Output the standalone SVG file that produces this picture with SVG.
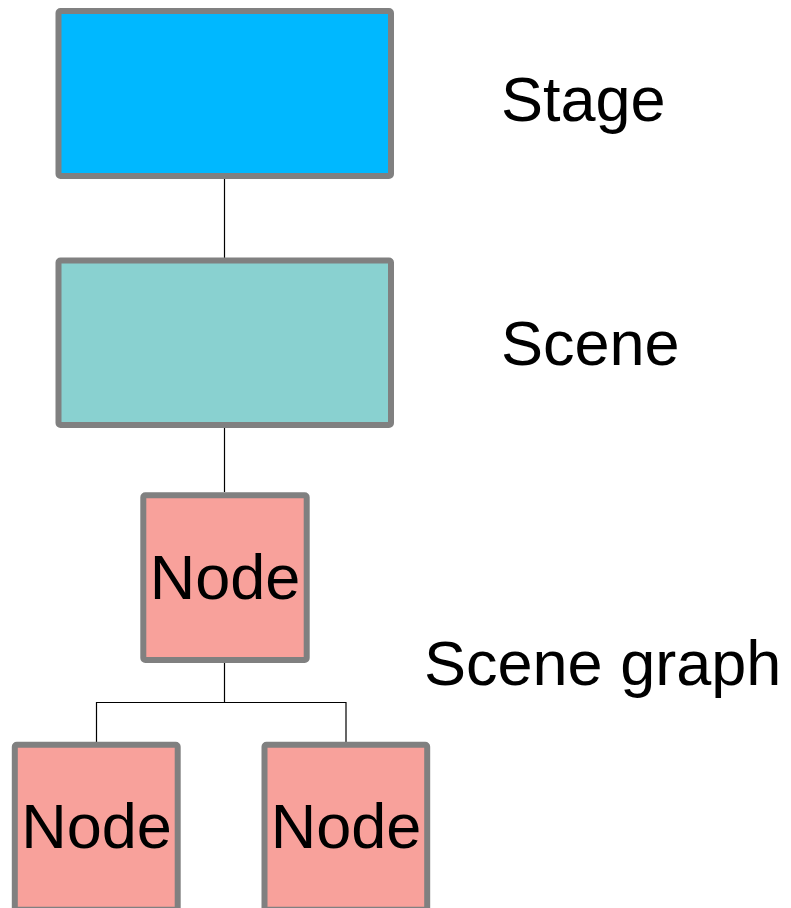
<svg xmlns="http://www.w3.org/2000/svg" width="791" height="908" viewBox="0 0 791 908">
<style>
.box{stroke:#808080;stroke-width:6}
.lbl{font-family:"Liberation Sans",Arial,sans-serif;font-size:63px;fill:#000}
.conn{stroke:#000;stroke-width:1.2;fill:none}
</style>
<rect width="791" height="908" fill="#fff"/>
<g id="connectors">
<path class="conn" d="M224.5 179V258"/>
<path class="conn" d="M224.5 428V492"/>
<path class="conn" d="M224.5 663V702.5M96.5 742V702.5H346V742"/>
</g>
<g id="stage">
<rect class="box" x="58.5" y="11" width="332.5" height="165" rx="2" fill="#00b8ff"/>
<text class="lbl" x="501" y="121">Stage</text>
</g>
<g id="scene">
<rect class="box" x="58.5" y="260.5" width="332.5" height="164.5" rx="2" fill="#89d1d0"/>
<text class="lbl" x="501" y="365">Scene</text>
</g>
<g id="scene-graph-label">
<text class="lbl" x="424" y="685">Scene graph</text>
</g>
<g id="node-root">
<rect class="box" x="143.3" y="495.3" width="163.4" height="164.7" rx="2" fill="#f8a19b"/>
<text class="lbl" x="225" y="599" text-anchor="middle">Node</text>
</g>
<g id="node-left">
<rect class="box" x="14.8" y="744.8" width="162.9" height="165" rx="2" fill="#f8a19b"/>
<text class="lbl" x="96.5" y="848" text-anchor="middle">Node</text>
</g>
<g id="node-right">
<rect class="box" x="264.5" y="744.8" width="162.7" height="165" rx="2" fill="#f8a19b"/>
<text class="lbl" x="346" y="848" text-anchor="middle">Node</text>
</g>
</svg>
